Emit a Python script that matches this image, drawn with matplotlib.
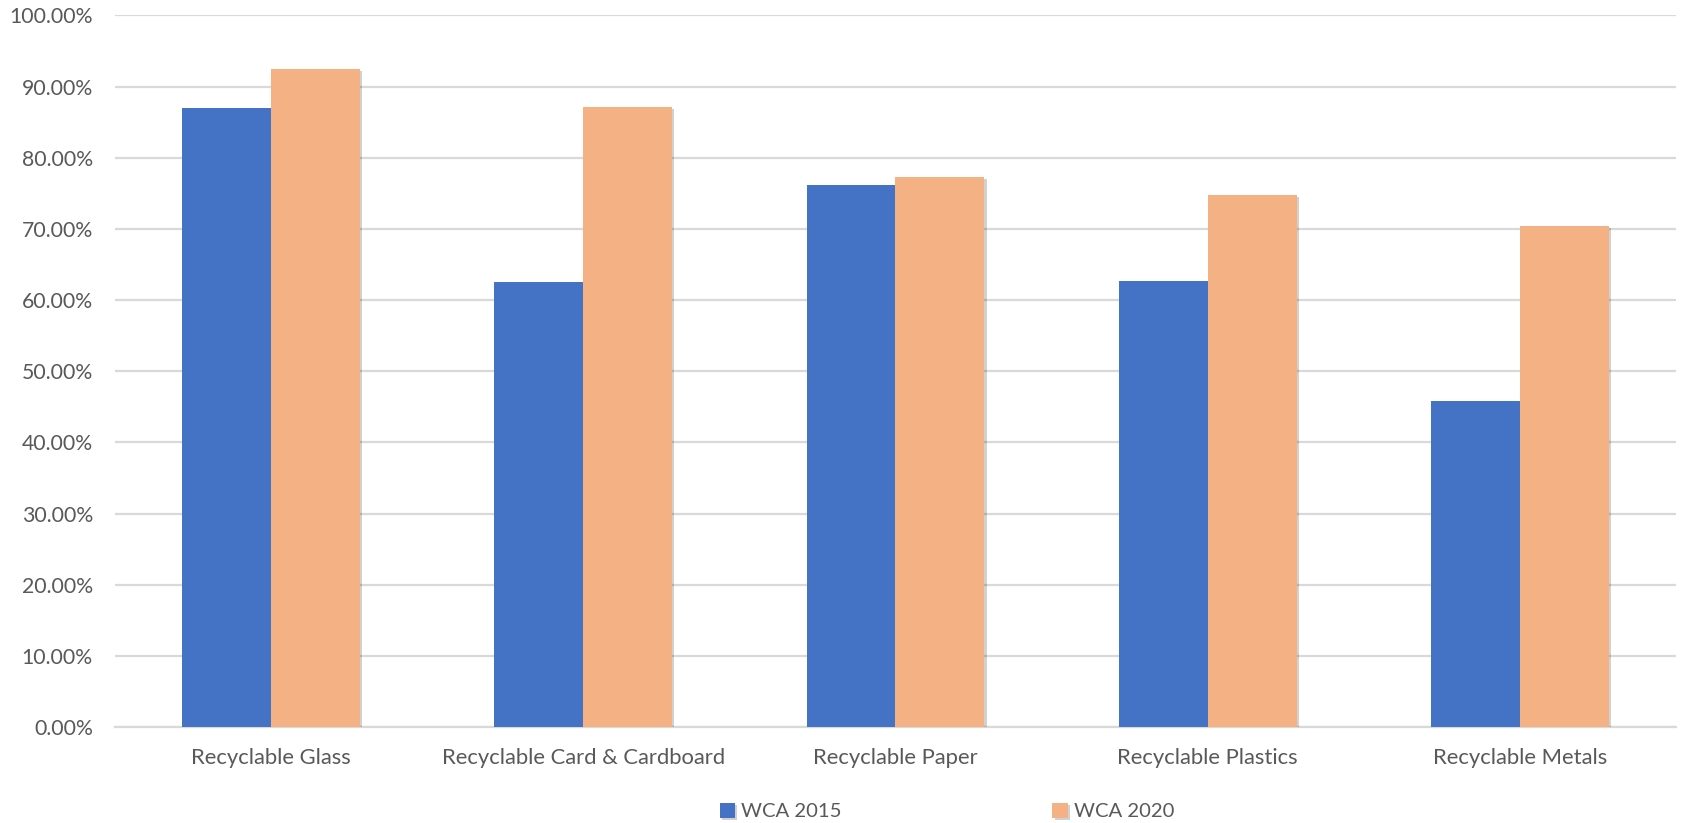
import matplotlib
matplotlib.use("Agg")
import matplotlib.pyplot as plt
import matplotlib.patheffects as pe
from matplotlib.ticker import FuncFormatter, MultipleLocator
import numpy as np

categories = ["Recyclable Glass", "Recyclable Card & Cardboard", "Recyclable Paper",
              "Recyclable Plastics", "Recyclable Metals"]
wca_2015 = [87.0, 62.5, 76.2, 62.7, 45.8]
wca_2020 = [92.5, 87.1, 77.3, 74.8, 70.4]
series_names = ["WCA 2015", "WCA 2020"]

plt.rcParams["font.family"] = ["Lato", "DejaVu Sans"]
text_color = "#595959"
grid_color = "#d9d9d9"

fig = plt.figure(figsize=(16.82, 8.23), dpi=100)
ax = fig.add_axes([0.0684, 0.1163, 0.928, 0.8651])

x = np.arange(len(categories))
width = 0.285
shadow = [pe.SimplePatchShadow(offset=(1.5, -1.5), shadow_rgbFace="#000000", alpha=0.18), pe.Normal()]
b1 = ax.bar(x - width / 2, wca_2015, width, color="#4472C4", label=series_names[0],
            zorder=3, path_effects=shadow)
b2 = ax.bar(x + width / 2, wca_2020, width, color="#F4B183", label=series_names[1],
            zorder=3, path_effects=shadow)

ax.set_ylim(0, 100)
ax.set_xlim(-0.5, len(categories) - 0.5)
ax.yaxis.set_major_locator(MultipleLocator(10))
ax.yaxis.set_major_formatter(FuncFormatter(lambda v, p: f"{v:.2f}%"))
ax.grid(axis="y", color=grid_color, linewidth=1.6, zorder=0)
ax.set_axisbelow(True)

for side in ["top", "right", "left"]:
    ax.spines[side].set_visible(False)
ax.spines["bottom"].set_color(grid_color)
ax.spines["bottom"].set_linewidth(1.6)

ax.set_xticks(x)
ax.set_xticklabels(categories)
ax.tick_params(axis="x", length=0, pad=15, labelsize=15.8, labelcolor=text_color)
ax.tick_params(axis="y", length=0, pad=16, labelsize=15.3, labelcolor=text_color)

fig.legend(handles=[b1, b2], loc="center", bbox_to_anchor=(0.563, 0.014), ncol=2,
           frameon=False, fontsize=14.6, labelcolor=text_color, handlelength=0.75,
           handleheight=0.75, handletextpad=0.3, columnspacing=10.4)

fig.savefig("out.png", dpi=100)
